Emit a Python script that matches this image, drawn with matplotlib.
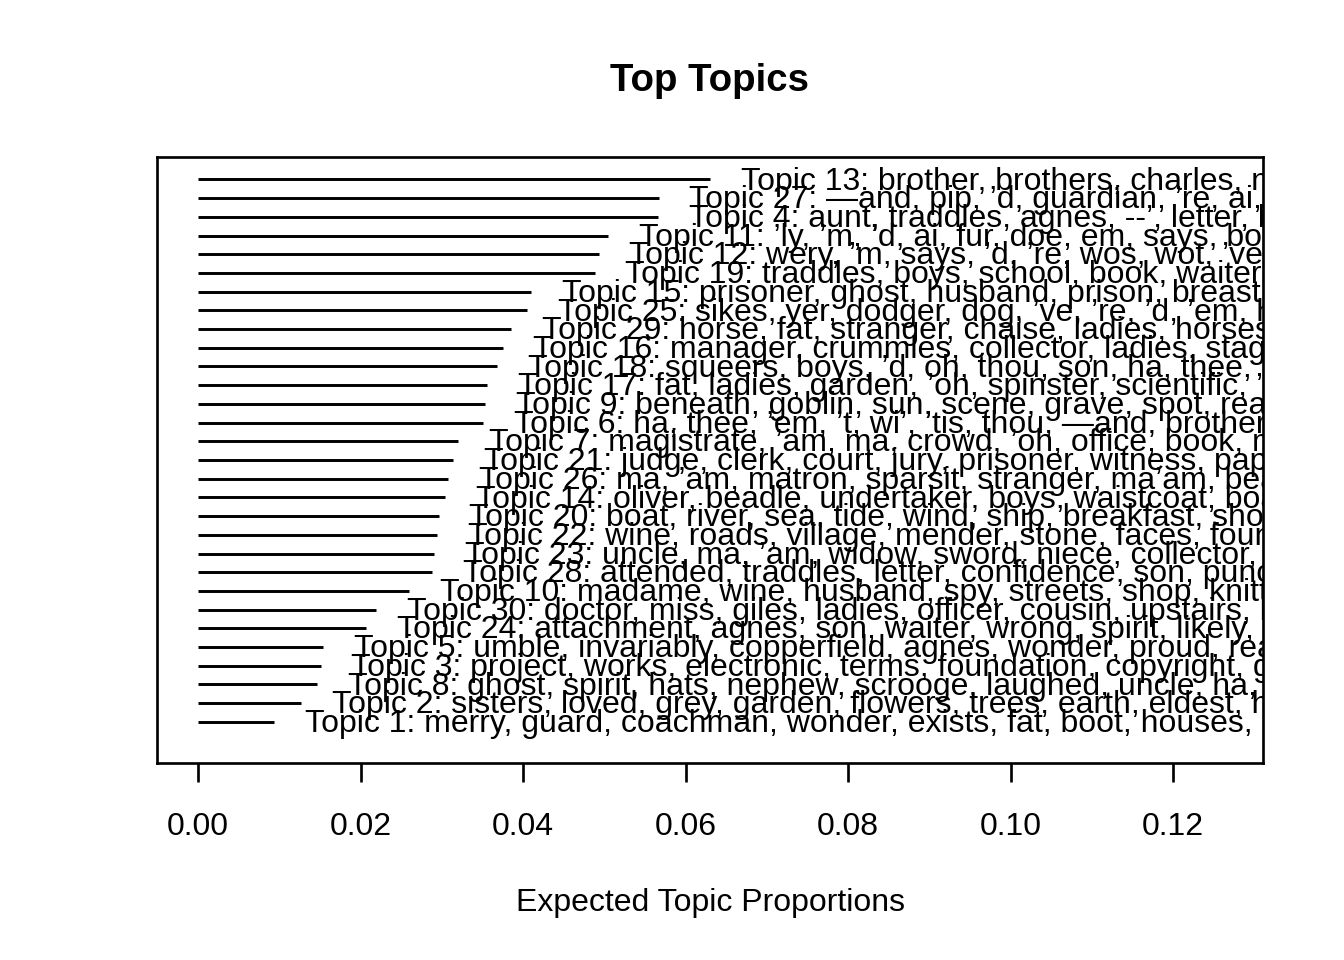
import matplotlib
matplotlib.use("Agg")
import matplotlib.pyplot as plt
import matplotlib.transforms as mtransforms
import numpy as np

# topics ordered bottom (smallest) to top (largest)
topics = [1, 2, 8, 3, 5, 24, 30, 10, 28, 23, 22, 20, 14, 26, 21, 7,
          6, 9, 17, 18, 16, 29, 25, 15, 19, 12, 11, 4, 27, 13]
props = [0.0094, 0.0127, 0.0147, 0.0151, 0.0154, 0.0207, 0.0219, 0.0260,
         0.0288, 0.0291, 0.0294, 0.0296, 0.0304, 0.0308, 0.0314, 0.0320,
         0.0351, 0.0353, 0.0356, 0.0368, 0.0375, 0.0385, 0.0405, 0.0410,
         0.0488, 0.0493, 0.0505, 0.0566, 0.0567, 0.0630]
words = {
    13: "brother, brothers, charles, nephew",
    27: "\u2014and, pip, \u2019d, guardian, \u2019re, ai, b",
    4: "aunt, traddles, agnes, --\u2019, letter, b",
    11: "\u2019ly, \u2019m, \u2019d, ai, fur, doe, em, says, bo",
    12: "wery, \u2019m, says, \u2019d, \u2019re, wos, wot, \u2019ve, e",
    19: "traddles, boys, school, book, waiter, s",
    15: "prisoner, ghost, husband, prison, breast, s",
    25: "sikes, yer, dodger, dog, \u2019ve, \u2019re, \u2019d, \u2019em, h",
    29: "horse, fat, stranger, chaise, ladies, horses",
    16: "manager, crummles, collector, ladies, stage",
    18: "squeers, boys, \u2019d, oh, thou, son, ha, thee, \u2019",
    17: "fat, ladies, garden, \u2019oh, spinster, scientific, \u2019l",
    9: "beneath, goblin, sun, scene, grave, spot, read",
    6: "ha, thee, \u2019em, \u2019t, wi\u2019, \u2019tis, thou, \u2014and, brother, ",
    7: "magistrate, \u2019am, ma, crowd, \u2019oh, office, book, m",
    21: "judge, clerk, court, jury, prisoner, witness, pap",
    26: "ma, \u2019am, matron, sparsit, stranger, ma\u2019am, bea",
    14: "oliver, beadle, undertaker, boys, waistcoat, boa",
    20: "boat, river, sea, tide, wind, ship, breakfast, sho",
    22: "wine, roads, village, mender, stone, faces, foun",
    23: "uncle, ma, \u2019am, widow, sword, niece, collector, ",
    28: "attended, traddles, letter, confidence, son, punc",
    10: "madame, wine, husband, spy, streets, shop, knitt",
    30: "doctor, miss, giles, ladies, officer, cousin, upstairs, h",
    24: "attachment, agnes, son, waiter, wrong, spirit, likely, s",
    5: "umble, invariably, copperfield, agnes, wonder, proud, rea",
    3: "project, works, electronic, terms, foundation, copyright, g",
    8: "ghost, spirit, hats, nephew, scrooge, laughed, uncle, ha, a",
    2: "sisters, loved, grey, garden, flowers, trees, earth, eldest, h",
    1: "merry, guard, coachman, wonder, exists, fat, boot, houses, m",
}
xticks = [0.00, 0.02, 0.04, 0.06, 0.08, 0.10, 0.12]

plt.rcParams['font.family'] = ['Liberation Sans', 'DejaVu Sans']
fig = plt.figure(figsize=(7, 5), dpi=192)
ax = fig.add_axes([157/1344, 1-763/960, (1263-157)/1344, (763-157)/960])

n = len(topics)
ys = np.arange(1, n + 1)
xmax = 2 * max(props)
ax.hlines(ys, 0, props, color='black', linewidth=1.1)

offs = mtransforms.ScaledTranslation(11.5/72, -3.8/72, fig.dpi_scale_trans)
for y, t, p in zip(ys, topics, props):
    ax.text(p, y, "Topic %d: %s" % (t, words[t]), fontsize=12,
            ha='left', va='baseline', clip_on=True,
            transform=ax.transData + offs)

ax.set_xlim(-0.04 * xmax, 1.04 * xmax)
ax.set_ylim(-1.2, n + 1.2)
ax.set_yticks([])
ax.set_xticks(xticks)
ax.set_xticklabels(["%.2f" % v for v in xticks])
ax.tick_params(axis='x', length=7.2, width=1.0, pad=11, labelsize=12)
for s in ax.spines.values():
    s.set_linewidth(1.0)
ax.set_xlabel("Expected Topic Proportions", fontsize=12, labelpad=17.5)
fig.text((157 + 1263) / 2 / 1344, 1 - 81/960, "Top Topics", fontsize=14.4,
         fontweight='bold', ha='center', va='center')

fig.savefig("out.png", dpi=192)
